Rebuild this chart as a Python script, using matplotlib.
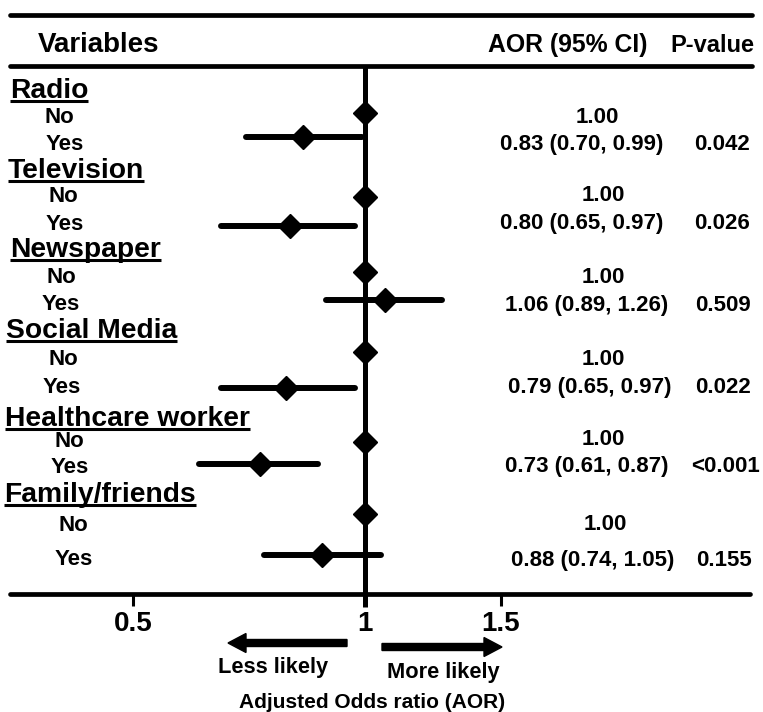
import numpy as np
import matplotlib
matplotlib.use("Agg")
import matplotlib.pyplot as plt
from matplotlib.patches import FancyArrow

plt.rcParams['font.family'] = ['Liberation Sans', 'DejaVu Sans']
plt.rcParams['font.weight'] = 'bold'

# ---------------- data ----------------
categories = ["Radio", "Television", "Newspaper", "Social Media",
              "Healthcare worker", "Family/friends"]
levels = ["No", "Yes"]
ref_aor = 1.00
aor_yes = [0.83, 0.80, 1.06, 0.79, 0.73, 0.88]
ci_low = [0.70, 0.65, 0.89, 0.65, 0.61, 0.74]
ci_high = [0.99, 0.97, 1.26, 0.97, 0.87, 1.05]
p_values = ["0.042", "0.026", "0.509", "0.022", "<0.001", "0.155"]
tick_values = [0.5, 1, 1.5]
tick_labels = ["0.5", "1", "1.5"]

# ---------------- layout (pixel positions) ----------------
W, H = 763, 712
K = 335.0          # pixels per ln unit
X1 = 365.0         # pixel of AOR = 1
AX_L, AX_R = 10, 750
AX_TOP, AX_BOT = 66, 594

head_y = [88, 168, 247, 328, 416, 492]
head_x = [10, 8, 10, 6, 5, 4]
no_y = [115, 194, 275, 357, 439, 523]
no_x = [45, 48, 47, 49, 54, 58]
yes_y = [142, 222, 302, 385, 465, 557]
yes_x = [46, 46, 42, 43, 51, 55]
no_mark_y = [113, 197, 272, 352, 442, 514]
yes_mark_y = [137, 226, 300, 388, 464, 555]
ref_txt_y = [115, 193, 275, 357, 437, 522]
ref_txt_x = [597, 603, 603, 603, 603, 605]
ci_txt_y = [142, 221, 303, 385, 464, 558]
ci_txt_x = [582, 582, 587, 590, 587, 593]
p_txt_x = [722, 722, 723, 723, 726, 724]

fig = plt.figure(figsize=(W / 100, H / 100), dpi=100)

# data axes (log scale) whose bottom spine is the axis line
ax = fig.add_axes([AX_L / W, (H - AX_BOT) / H, (AX_R - AX_L) / W, (AX_BOT - AX_TOP) / H])
ax.set_xscale('log')
ax.set_xlim(np.exp((AX_L - X1) / K), np.exp((AX_R - X1) / K))
ax.set_ylim(AX_BOT, AX_TOP)
ax.patch.set_visible(False)
for s in ['top', 'left', 'right']:
    ax.spines[s].set_visible(False)
ax.spines['bottom'].set_linewidth(3.4)
ax.spines['bottom'].set_capstyle('round')
ax.set_yticks([])
ax.xaxis.set_minor_locator(matplotlib.ticker.NullLocator())
ax.set_xticks(tick_values)
ax.set_xticklabels(tick_labels, fontsize=20, fontweight='bold')
ax.tick_params(axis='x', direction='out', length=8.5, width=2.2, pad=4)

# reference line at AOR = 1
ax.plot([ref_aor, ref_aor], [AX_TOP, 607], color='k', lw=3.6, clip_on=False,
        solid_capstyle='butt', zorder=3)

for i in range(len(categories)):
    # reference marker
    ax.plot([ref_aor], [no_mark_y[i]], marker='D', ms=12.5, color='k', clip_on=False, zorder=4)
    # CI and estimate
    ax.plot([ci_low[i], ci_high[i]], [yes_mark_y[i], yes_mark_y[i]], color='k', lw=4.3,
            solid_capstyle='round', clip_on=False, zorder=4)
    ax.plot([aor_yes[i]], [yes_mark_y[i]], marker='D', ms=12.5, color='k', clip_on=False, zorder=5)

# overlay axes in pixel coordinates for text and rules
ov = fig.add_axes([0, 0, 1, 1])
ov.set_xlim(0, W)
ov.set_ylim(H, 0)
ov.axis('off')
ov.patch.set_visible(False)

for yy in [15, 66]:
    ov.plot([10, 752], [yy, yy], color='k', lw=3.4, solid_capstyle='round')

ov.text(38, 42 + 10, "Variables", fontsize=20, fontweight='bold', ha='left', va='baseline')
ov.text(568, 43 + 9, "AOR (95% CI)", fontsize=17.8, fontweight='bold', ha='center', va='baseline')
ov.text(712, 43 + 9, "P-value", fontsize=17, fontweight='bold', ha='center', va='baseline')

head_texts = []
for i, cat in enumerate(categories):
    t = ov.text(head_x[i], head_y[i] + 10, cat, fontsize=20.3, fontweight='bold',
                ha='left', va='baseline')
    head_texts.append((t, head_y[i] + 10))
    ov.text(no_x[i], no_y[i] + 8, levels[0], fontsize=16, fontweight='bold',
            ha='left', va='baseline')
    ov.text(yes_x[i], yes_y[i] + 8, levels[1], fontsize=16, fontweight='bold',
            ha='left', va='baseline')
    ov.text(ref_txt_x[i], ref_txt_y[i] + 8, f"{ref_aor:.2f}", fontsize=16,
            fontweight='bold', ha='center', va='baseline')
    ov.text(ci_txt_x[i], ci_txt_y[i] + 8,
            f"{aor_yes[i]:.2f} ({ci_low[i]:.2f}, {ci_high[i]:.2f})",
            fontsize=16, fontweight='bold', ha='center', va='baseline')
    ov.text(p_txt_x[i], ci_txt_y[i] + 8, p_values[i], fontsize=16,
            fontweight='bold', ha='center', va='baseline')

# underline category headers
fig.canvas.draw()
r = fig.canvas.get_renderer()
inv = ov.transData.inverted()
for t, base in head_texts:
    bb = t.get_window_extent(renderer=r)
    (x0, _), (x1, _) = inv.transform([[bb.x0, bb.y0], [bb.x1, bb.y1]])
    ov.plot([x0, x1], [base + 2.5, base + 2.5], color='k', lw=2.2, solid_capstyle='butt')

# direction arrows
ov.add_patch(FancyArrow(347, 643, -(347 - 228) + 18, 0, width=7, head_width=19,
                        head_length=18, length_includes_head=False, color='k'))
ov.add_patch(FancyArrow(382, 647, (502 - 382) - 18, 0, width=7, head_width=19,
                        head_length=18, length_includes_head=False, color='k'))
ov.text(273, 665 + 8, "Less likely", fontsize=15.7, fontweight='bold', ha='center', va='baseline')
ov.text(443, 670 + 8, "More likely", fontsize=15.7, fontweight='bold', ha='center', va='baseline')
ov.text(372, 700 + 7.5, "Adjusted Odds ratio (AOR)", fontsize=15, fontweight='bold',
        ha='center', va='baseline')

fig.savefig("out.png", dpi=100)
